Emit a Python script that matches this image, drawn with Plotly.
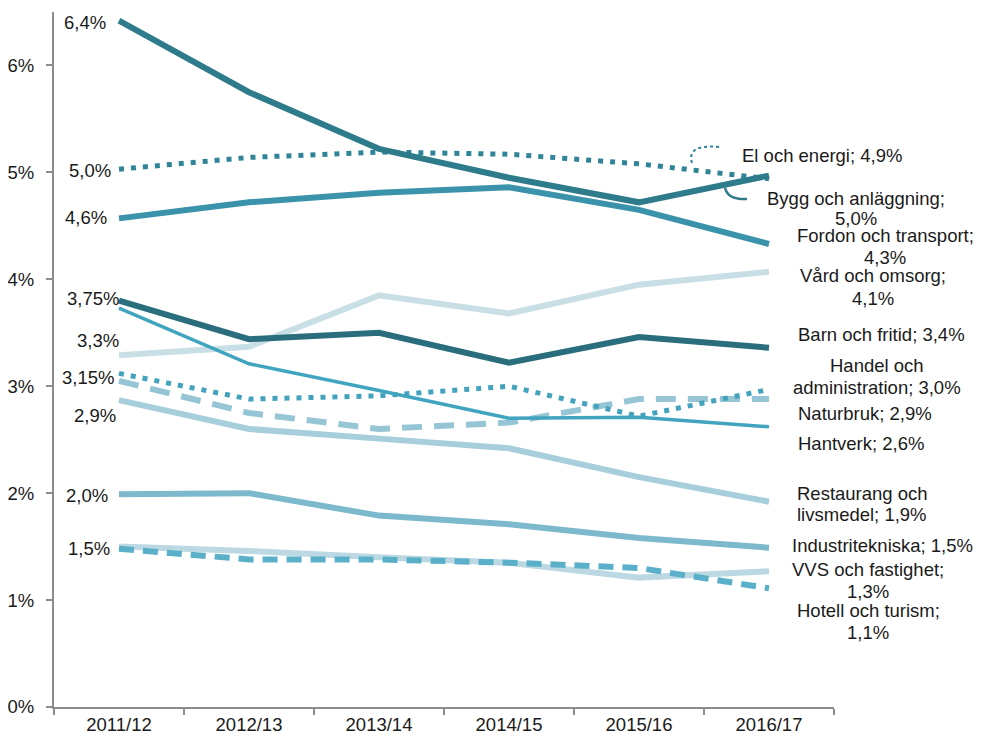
import plotly.graph_objects as go

years = ["2011/12", "2012/13", "2013/14", "2014/15", "2015/16", "2016/17"]

bygg = [6.42, 5.75, 5.22, 4.95, 4.72, 4.97]
el_energi = [5.03, 5.14, 5.19, 5.17, 5.08, 4.94]
fordon = [4.57, 4.72, 4.81, 4.86, 4.65, 4.33]
vard = [3.29, 3.37, 3.85, 3.68, 3.95, 4.07]
barn = [3.80, 3.44, 3.50, 3.22, 3.46, 3.36]
hantverk = [3.73, 3.21, 2.96, 2.70, 2.71, 2.62]
handel = [3.12, 2.88, 2.91, 3.00, 2.72, 2.97]
naturbruk = [3.05, 2.75, 2.60, 2.66, 2.88, 2.88]
restaurang = [2.87, 2.60, 2.51, 2.42, 2.15, 1.92]
industri = [1.99, 2.00, 1.79, 1.71, 1.58, 1.49]
vvs = [1.50, 1.46, 1.40, 1.35, 1.21, 1.27]
hotell = [1.48, 1.38, 1.38, 1.35, 1.30, 1.11]

y_ticks = [0, 1, 2, 3, 4, 5, 6]
y_tick_text = ["0%", "1%", "2%", "3%", "4%", "5%", "6%"]

# start-value labels (left): text, y pixel, right edge pixel
left_labels = [("6,4%", 22, 108), ("5,0%", 170, 113), ("4,6%", 218, 109),
               ("3,75%", 298, 121), ("3,3%", 340, 121), ("3,15%", 377, 116),
               ("2,9%", 415, 118), ("2,0%", 495, 110), ("1,5%", 548, 112)]

# end labels (right): list of lines (text, y pixel) and x centre pixel
right_labels = [([("El och energi; 4,9%", 155)], 822),
                ([("Bygg och anläggning;", 198), ("5,0%", 219)], 856),
                ([("Fordon och transport;", 236), ("4,3%", 257)], 885),
                ([("Vård och omsorg;", 276), ("4,1%", 298)], 873),
                ([("Barn och fritid; 3,4%", 335)], 881),
                ([("Handel och", 365), ("administration; 3,0%", 387)], 877),
                ([("Naturbruk; 2,9%", 413)], 865),
                ([("Hantverk; 2,6%", 444)], 861),
                ([("Restaurang och", 493), ("livsmedel; 1,9%", 514)], 862),
                ([("Industritekniska; 1,5%", 545)], 882),
                ([("VVS och fastighet;", 569), ("1,3%", 591)], 868),
                ([("Hotell och turism;", 610), ("1,1%", 632)], 868)]

series = [
    ("Vård och omsorg", vard, "#C8DFE6", 6, "solid"),
    ("VVS och fastighet", vvs, "#BCD9E3", 6, "solid"),
    ("Restaurang och livsmedel", restaurang, "#A7CEDB", 6, "solid"),
    ("Industritekniska", industri, "#7CB9CD", 6, "solid"),
    ("Hotell och turism", hotell, "#5AB0C9", 6, "15px,9px"),
    ("Naturbruk", naturbruk, "#96C5D5", 6, "20px,12px"),
    ("Hantverk", hantverk, "#41A5BF", 3.5, "solid"),
    ("Handel och administration", handel, "#43A2BD", 5, "5px,7px"),
    ("Barn och fritid", barn, "#2A6E7E", 6, "solid"),
    ("Fordon och transport", fordon, "#3B93AB", 6, "solid"),
    ("El och energi", el_energi, "#2F8497", 5, "5px,7px"),
    ("Bygg och anläggning", bygg, "#2E7B8C", 6, "solid"),
]

fig = go.Figure()
for name, vals, color, w, dash in series:
    fig.add_trace(go.Scatter(x=years, y=vals, mode="lines", name=name,
                             line=dict(color=color, width=w, dash=dash),
                             hoverinfo="skip"))

# page body has an 8px margin; compensate so the plot area lands at
# x 54..834 and y 12..707 in the window
OFF = 8
W, H = 981 - OFF, 738 - OFF
L, R, T, B = 54 - OFF, 981 - 834, 12 - OFF, 738 - 707
pw = W - L - R
ph = H - T - B

def px2paper(px):
    return (px - OFF - L) / pw

def py2paper(py):
    return (OFF + T + ph - py) / ph

FS = 18.5
annotations = []
for text, py, right_px in left_labels:
    annotations.append(dict(x=px2paper(right_px), xref="paper", y=py2paper(py), yref="paper",
                            text=text, showarrow=False, xanchor="right", yanchor="middle",
                            font=dict(size=FS, color="#1a1a1a")))
for lines, cx in right_labels:
    for text, py in lines:
        annotations.append(dict(x=px2paper(cx), xref="paper", y=py2paper(py), yref="paper",
                                text=text, showarrow=False, xanchor="center", yanchor="middle",
                                font=dict(size=FS, color="#1a1a1a")))

el_path = "M {:.4f},{:.4f} Q {:.4f},{:.4f} {:.4f},{:.4f}".format(
    px2paper(692), py2paper(163), px2paper(686), py2paper(144), px2paper(720), py2paper(147))
bygg_path = "M {:.4f},{:.4f} Q {:.4f},{:.4f} {:.4f},{:.4f}".format(
    px2paper(725), py2paper(188), px2paper(728), py2paper(200), px2paper(747), py2paper(199))

shapes = [
    dict(type="path", path=el_path, xref="paper", yref="paper",
         line=dict(color="#2F8497", width=2, dash="dot")),
    dict(type="path", path=bygg_path, xref="paper", yref="paper",
         line=dict(color="#2E7B8C", width=2.5)),
]

fig.update_layout(
    width=W, height=H,
    margin=dict(l=L, r=R, t=T, b=B, autoexpand=False),
    paper_bgcolor="white", plot_bgcolor="white",
    showlegend=False,
    font=dict(family="Liberation Sans, Arial, sans-serif", size=FS, color="#1a1a1a"),
    annotations=annotations,
    shapes=shapes,
    xaxis=dict(type="category", range=[-0.5, 5.5], showgrid=False, zeroline=False,
               showline=True, linecolor="#8c8c8c", linewidth=2,
               ticks="outside", tickson="boundaries", ticklen=6, tickcolor="#8c8c8c",
               tickwidth=1.5, tickfont=dict(size=FS, color="#1a1a1a")),
    yaxis=dict(range=[0, 6.5], showgrid=False, zeroline=False,
               showline=True, linecolor="#8c8c8c", linewidth=2,
               ticks="outside", ticklen=6, tickcolor="#8c8c8c", tickwidth=1.5,
               tickvals=y_ticks, ticktext=y_tick_text, ticklabelstandoff=8,
               tickfont=dict(size=FS, color="#1a1a1a")),
)

fig.write_html("out.html")
